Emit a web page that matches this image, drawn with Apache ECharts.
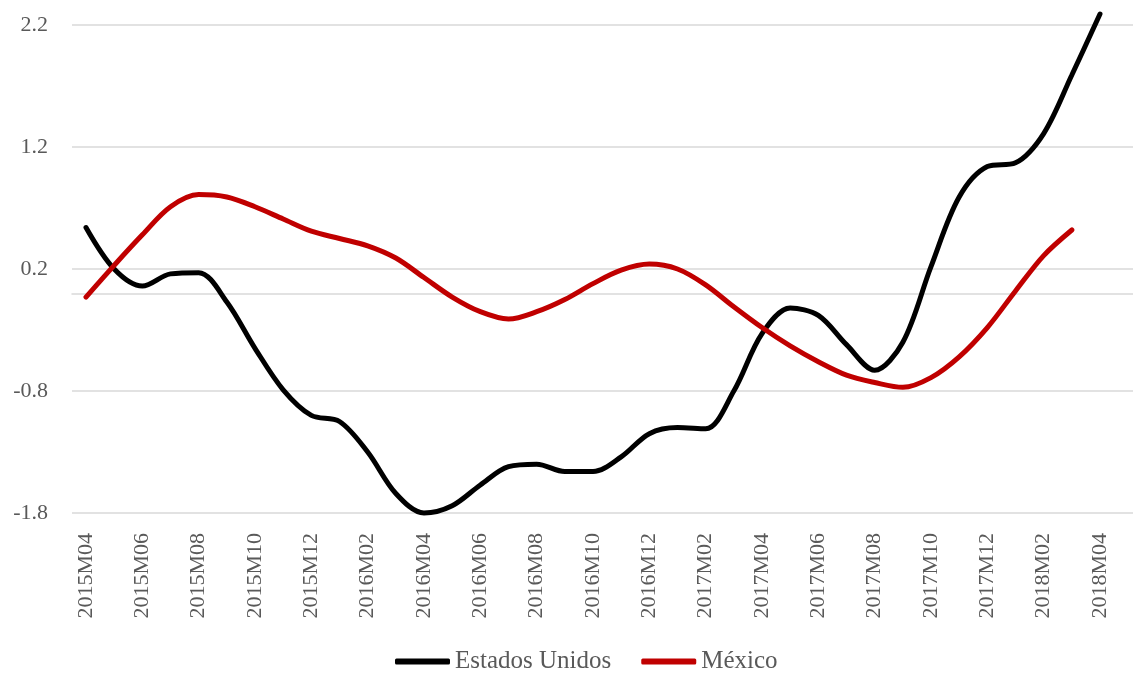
<!DOCTYPE html>
<html>
<head>
<meta charset="utf-8">
<script src="https://cdn.jsdelivr.net/npm/echarts@6/dist/echarts.min.js"></script>
<style>
  html, body { margin: 0; padding: 0; background: #fff; }
  #chart { width: 1133px; height: 673px; }
</style>
</head>
<body>
<div id="chart"></div>
<script>
// meses (categorías del eje x)
var meses = [
  '2015M04','2015M05','2015M06','2015M07','2015M08','2015M09','2015M10','2015M11','2015M12',
  '2016M01','2016M02','2016M03','2016M04','2016M05','2016M06','2016M07','2016M08','2016M09',
  '2016M10','2016M11','2016M12','2017M01','2017M02','2017M03','2017M04','2017M05','2017M06',
  '2017M07','2017M08','2017M09','2017M10','2017M11','2017M12','2018M01','2018M02','2018M03',
  '2018M04'
];
// Estados Unidos
var estadosUnidos = [
  0.54, 0.20, 0.06, 0.16, 0.17, -0.07, -0.45, -0.79, -1.00,
  -1.05, -1.30, -1.64, -1.80, -1.74, -1.57, -1.42, -1.40, -1.46,
  -1.46, -1.34, -1.15, -1.10, -1.11, -0.80, -0.33, -0.12, -0.18,
  -0.42, -0.63, -0.40, 0.22, 0.79, 1.04, 1.07, 1.31, 1.79,
  2.29
];
// México (sin dato en 2018M04)
var mexico = [
  -0.03, 0.23, 0.48, 0.71, 0.81, 0.79, 0.71, 0.61, 0.51,
  0.45, 0.39, 0.29, 0.13, -0.03, -0.15, -0.21, -0.15, -0.05,
  0.08, 0.19, 0.24, 0.20, 0.07, -0.11, -0.28, -0.43, -0.56,
  -0.67, -0.73, -0.77, -0.69, -0.52, -0.28, 0.02, 0.31, 0.52,
  null
];
var yMin = -1.8, yMax = 2.2, yPaso = 1;

var fuente = 'Liberation Serif';
var gris = '#595959';
var lineaGris = '#d9d9d9';

var chart = echarts.init(document.getElementById('chart'), null, {renderer: 'canvas'});
chart.setOption({
  backgroundColor: '#fff',
  animation: false,
  textStyle: { fontFamily: fuente },
  legend: {
    data: ['Estados Unidos', 'México'],
    left: 390,
    bottom: -6,
    icon: 'roundRect',
    itemWidth: 55,
    itemHeight: 6,
    itemGap: 30,
    textStyle: { fontFamily: fuente, fontSize: 25, color: gris }
  },
  grid: [
    // grid principal (series)
    { left: 86, right: 33, top: 25, bottom: 160 },
    // grid de fondo (líneas de división a todo el ancho)
    { left: 72, right: 0, top: 25, bottom: 160 }
  ],
  xAxis: [
    {
      gridIndex: 0,
      type: 'category',
      data: meses,
      boundaryGap: false,
      axisLine: { show: false },
      axisTick: { show: false },
      splitLine: { show: false },
      axisLabel: {
        interval: 1,
        rotate: 90,
        margin: 20,
        color: gris,
        fontFamily: fuente,
        fontSize: 22
      }
    },
    {
      gridIndex: 1,
      type: 'value',
      min: 0,
      max: 1,
      axisLine: { show: true, onZero: true, lineStyle: { color: lineaGris, width: 1.5 } },
      axisTick: { show: false },
      axisLabel: { show: false },
      splitLine: { show: false }
    }
  ],
  yAxis: [
    {
      gridIndex: 0,
      type: 'value',
      min: yMin,
      max: yMax,
      interval: yPaso,
      show: false
    },
    {
      gridIndex: 1,
      type: 'value',
      min: yMin,
      max: yMax,
      interval: yPaso,
      axisLine: { show: false },
      axisTick: { show: false },
      axisLabel: {
        margin: 24,
        color: gris,
        fontFamily: fuente,
        fontSize: 22,
        formatter: function (v) { return v.toFixed(1); }
      },
      splitLine: { lineStyle: { color: lineaGris, width: 1.5 } }
    }
  ],
  series: [
    {
      name: 'Estados Unidos',
      type: 'line',
      data: estadosUnidos,
      smooth: 0.33,
      clip: false,
      symbol: 'none',
      showSymbol: false,
      lineStyle: { color: '#000000', width: 5, cap: 'round' },
      itemStyle: { color: '#000000' }
    },
    {
      name: 'México',
      type: 'line',
      data: mexico,
      smooth: 0.33,
      clip: false,
      symbol: 'none',
      showSymbol: false,
      lineStyle: { color: '#c00000', width: 5, cap: 'round' },
      itemStyle: { color: '#c00000' }
    }
  ]
});
</script>
</body>
</html>
